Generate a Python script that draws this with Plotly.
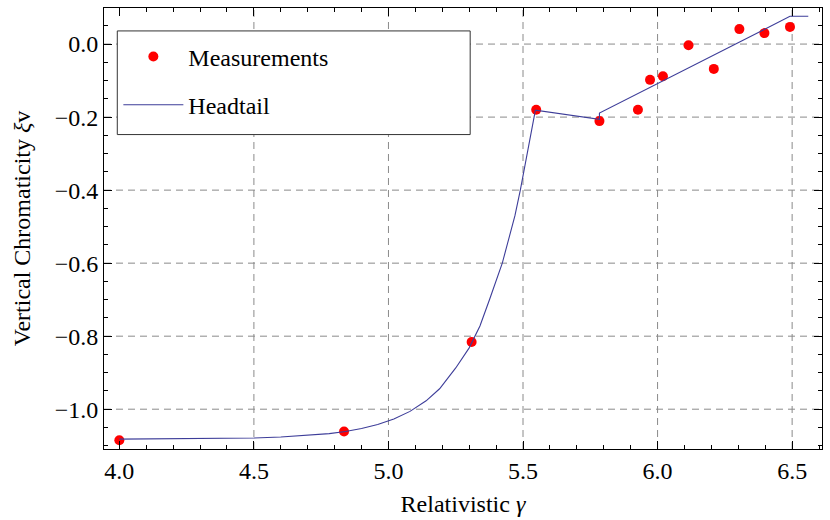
import plotly.graph_objects as go

# Measured vertical chromaticity vs relativistic gamma
gamma_meas = [4.000, 4.835, 5.309, 5.549, 5.784, 5.927, 5.972, 6.020, 6.115, 6.209, 6.304, 6.397, 6.492]
xi_meas = [-1.085, -1.061, -0.816, -0.180, -0.211, -0.180, -0.098, -0.088, -0.003, -0.068, 0.041, 0.030, 0.047]

# Headtail simulation curve
gamma_ht = [4.00, 4.30, 4.50, 4.60, 4.70, 4.78, 4.84, 4.90, 4.96, 5.02, 5.08, 5.14, 5.19, 5.25,
            5.30, 5.34, 5.376, 5.423, 5.45, 5.47, 5.49, 5.52, 5.546,
            5.784, 5.784, 6.492, 6.560]
xi_ht = [-1.082, -1.081, -1.079, -1.076, -1.072, -1.067, -1.061, -1.053, -1.042, -1.027, -1.006, -0.977,
         -0.944, -0.887, -0.832, -0.772, -0.699, -0.600, -0.525, -0.470, -0.400, -0.280, -0.181,
         -0.206, -0.189, 0.076, 0.076]

x_grid = [4.5, 5.0, 5.5, 6.0, 6.5]
y_grid = [0.0, -0.2, -0.4, -0.6, -0.8, -1.0]

FONT = "Liberation Serif, Times New Roman, serif"
FS = 24

fig = go.Figure()
fig.add_trace(go.Scatter(
    x=gamma_meas, y=xi_meas, mode="markers", name="Measurements",
    marker=dict(color="#ff0000", size=10),
    legendgroup="a",
))
fig.add_trace(go.Scatter(
    x=gamma_ht, y=xi_ht, mode="lines", name="Headtail",
    line=dict(color="#3d3d99", width=1.1),
    legendgroup="b",
))

shapes = []
for gx in x_grid:
    shapes.append(dict(type="line", xref="x", yref="paper", x0=gx, x1=gx, y0=0, y1=1,
                       line=dict(color="#8a8a8a", width=1, dash="7px,5px"), layer="below"))
for gy in y_grid:
    shapes.append(dict(type="line", xref="paper", yref="y", x0=0, x1=1, y0=gy, y1=gy,
                       line=dict(color="#8a8a8a", width=1, dash="7px,5px"), layer="below"))
# legend frame
shapes.append(dict(type="rect", xref="paper", yref="paper",
                   x0=0.0185, x1=0.510, y0=0.713, y1=0.948,
                   line=dict(color="#333333", width=1), fillcolor="white", layer="above"))

axis_common = dict(
    showline=True, linecolor="black", linewidth=1, mirror="allticks",
    ticks="inside", ticklen=8, tickcolor="black", tickwidth=1,
    showgrid=False, zeroline=False, tickformat=".1f",
    tickfont=dict(family=FONT, size=FS, color="black"),
)

fig.update_xaxes(
    range=[3.943, 6.611], dtick=0.5, tick0=4.0,
    minor=dict(dtick=0.1, tick0=4.0, ticks="inside", ticklen=4, tickcolor="black", showgrid=False),
    title=dict(text="Relativistic <i>γ</i>", font=dict(family=FONT, size=FS, color="black"), standoff=12),
    **axis_common,
)
fig.update_yaxes(
    range=[-1.109, 0.0988], dtick=0.2, tick0=0.0,
    minor=dict(dtick=0.05, tick0=0.0, ticks="inside", ticklen=4, tickcolor="black", showgrid=False),
    title=dict(text="Vertical Chromaticity <i>ξ</i>v", font=dict(family=FONT, size=FS, color="black"), standoff=17),
    **axis_common,
)

fig.update_layout(
    width=830, height=520,
    margin=dict(l=104, r=7, t=7, b=69),
    paper_bgcolor="white", plot_bgcolor="white",
    shapes=shapes,
    showlegend=True,
    legend=dict(
        x=0.02, y=0.94, xanchor="left", yanchor="top",
        bgcolor="rgba(0,0,0,0)", borderwidth=0,
        font=dict(family=FONT, size=FS, color="black"),
        tracegroupgap=14, itemwidth=60,
    ),
)

fig.write_html("out.html")
